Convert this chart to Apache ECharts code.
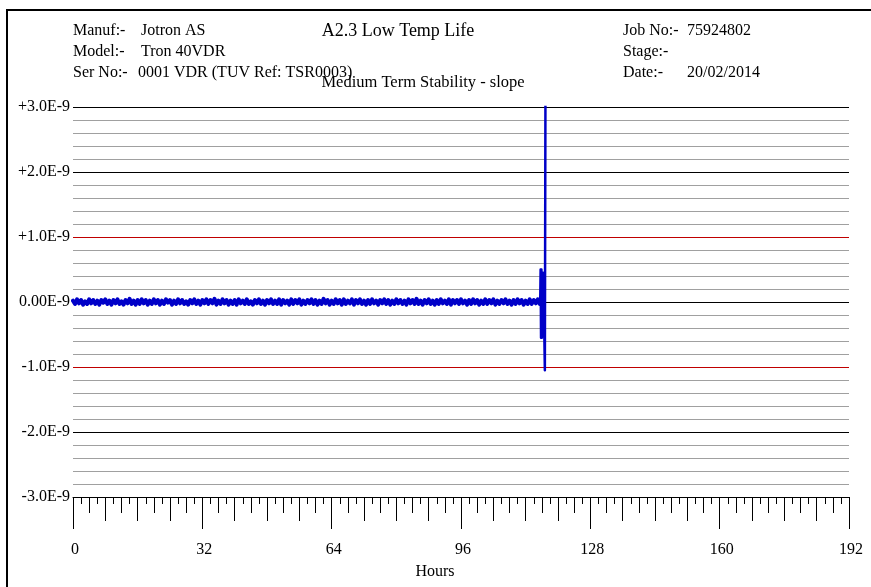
<!DOCTYPE html>
<html>
<head>
<meta charset="utf-8">
<script src="https://cdn.jsdelivr.net/npm/echarts@6.0.0/dist/echarts.min.js"></script>
<style>
html,body{margin:0;padding:0;background:#fff;}
#chart{width:871px;height:587px;}
</style>
</head>
<body>
<div id="chart"></div>
<script>
// ---- data (values in units of 1e-9) ----
const sampleStepHours = 0.5;
const noiseValues = [
0.02,-0.03,0.04,-0.02,0.03,-0.04,0.01,-0.03,0.04,-0.02,0.03,-0.03,0.02,-0.04,0.03,-0.01,0.04,-0.03,0.02,-0.04,
0.03,-0.02,0.04,-0.03,0.01,-0.04,0.03,-0.02,0.05,-0.03,0.02,-0.04,0.03,-0.03,0.04,-0.02,0.03,-0.04,0.02,-0.03,
0.04,-0.02,0.03,-0.04,0.02,-0.03,0.04,-0.01,0.03,-0.04,0.02,-0.03,0.04,-0.02,0.03,-0.03,0.01,-0.04,0.03,-0.02,
0.04,-0.03,0.02,-0.04,0.03,-0.02,0.04,-0.03,0.03,-0.02,0.05,-0.04,0.02,-0.03,0.04,-0.02,0.03,-0.04,0.02,-0.03,
0.03,-0.04,0.04,-0.02,0.02,-0.03,0.04,-0.03,0.01,-0.04,0.03,-0.02,0.04,-0.03,0.02,-0.04,0.03,-0.02,0.04,-0.03,
0.02,-0.03,0.04,-0.04,0.03,-0.02,0.02,-0.04,0.04,-0.03,0.03,-0.02,0.04,-0.04,0.02,-0.03,0.03,-0.02,0.04,-0.03,
0.03,-0.04,0.02,-0.03,0.05,-0.02,0.03,-0.04,0.02,-0.03,0.04,-0.02,0.03,-0.04,0.04,-0.03,0.02,-0.02,0.04,-0.04,
0.03,-0.02,0.04,-0.03,0.02,-0.04,0.03,-0.03,0.04,-0.02,0.02,-0.04,0.03,-0.02,0.04,-0.03,0.03,-0.04,0.02,-0.03,
0.04,-0.02,0.03,-0.03,0.02,-0.04,0.04,-0.02,0.03,-0.03,0.05,-0.03,0.02,-0.04,0.03,-0.02,0.04,-0.03,0.02,-0.04,
0.03,-0.03,0.04,-0.02,0.02,-0.03,0.04,-0.04,0.03,-0.02,0.03,-0.03,0.04,-0.02,0.02,-0.04,0.03,-0.03,0.04,-0.02,
0.03,-0.04,0.02,-0.03,0.04,-0.03,0.03,-0.02,0.04,-0.04,0.02,-0.03,0.03,-0.02,0.04,-0.03,0.02,-0.04,0.03,-0.03,
0.04,-0.02,0.03,-0.04,0.02,-0.03,0.04,-0.03,0.03,-0.02,0.04,-0.03
];
const spikeHours  = [115.5, 115.6, 115.7, 115.8, 115.9, 116.0, 116.1, 116.2, 116.3, 116.4, 116.5, 116.6, 116.75, 116.9];
const spikeValues = [-0.03, 0.02, 0.5, -0.55, 0.5, -0.55, 0.45, -0.5, 0.45, -0.5, 0.4, -0.45, -1.05, 3.3];

const yTickValues = [-3, -2, -1, 0, 1, 2, 3];
const yTickLabels = ['-3.0E-9', '-2.0E-9', '-1.0E-9', '0.00E-9', '+1.0E-9', '+2.0E-9', '+3.0E-9'];
const xTickLabels = ['0', '32', '64', '96', '128', '160', '192'];

const headerLeft = [['Manuf:-', 'Jotron AS'], ['Model:-', 'Tron 40VDR'], ['Ser No:-', '0001 VDR (TUV Ref: TSR0003)']];
const headerRight = [['Job No:-', '75924802'], ['Stage:-', ''], ['Date:-', '20/02/2014']];
const chartTitle = 'A2.3 Low Temp Life';
const chartSubtitle = 'Medium Term Stability - slope';
const xAxisName = 'Hours';

// ---- build ----
const noiseData = noiseValues.map((v, i) => [i * sampleStepHours, v]);
const spikeData = spikeHours.map((h, i) => [h, spikeValues[i]]);

const FONT = '"Liberation Serif", "Times New Roman", serif';
const txt = (text, x, y, size, align) => ({
  type: 'text', z: 100,
  style: { text: text, x: x, y: y, fill: '#000', font: size + 'px ' + FONT,
           align: align || 'left', textAlign: align || 'left',
           verticalAlign: 'middle', textVerticalAlign: 'middle' }
});

const rowY = [31, 52, 73];
const graphics = [
  { type: 'rect', z: 100, shape: { x: 7, y: 10, width: 900, height: 600 },
    style: { fill: 'none', stroke: '#000', lineWidth: 2 } }
];
headerLeft.forEach((r, i) => {
  graphics.push(txt(r[0], 73, rowY[i], 16));
  graphics.push(txt(r[1], i === 2 ? 138 : 141, rowY[i], 16));
});
headerRight.forEach((r, i) => {
  graphics.push(txt(r[0], 623, rowY[i], 16));
  if (r[1]) graphics.push(txt(r[1], 687, rowY[i], 16));
});
graphics.push(txt(chartTitle, 398, 31, 18, 'center'));
graphics.push(txt(chartSubtitle, 423, 83, 16.5, 'center'));
graphics.push(txt(xAxisName, 435, 572, 16, 'center'));

const minorX = (interval, len) => ({
  type: 'value', gridIndex: 0, position: 'bottom', min: 0, max: 192, interval: interval,
  axisLine: { show: false, onZero: false },
  axisTick: { show: true, length: len, lineStyle: { color: '#000', width: 1 } },
  axisLabel: { show: false }, splitLine: { show: false }
});

const option = {
  backgroundColor: '#fff',
  animation: false,
  grid: { left: 73, right: 22, top: 107, bottom: 90, outerBoundsMode: 'none' },
  xAxis: [
    {
      type: 'value', gridIndex: 0, position: 'bottom', min: 0, max: 192, interval: 32,
      axisLine: { show: true, onZero: false, lineStyle: { color: '#000', width: 1 } },
      axisTick: { show: true, length: 32, lineStyle: { color: '#000', width: 1 } },
      axisLabel: {
        show: true, margin: 45, color: '#000', fontFamily: FONT, fontSize: 16,
        padding: [0, 0, 0, 4],
        formatter: (v) => xTickLabels[Math.round(v / 32)]
      },
      splitLine: { show: false }
    },
    minorX(8, 24),
    minorX(4, 16),
    minorX(2, 7)
  ],
  yAxis: {
    type: 'value', min: -3, max: 3, interval: 1,
    axisLine: { show: false, onZero: false },
    axisTick: { show: false },
    minorTick: { show: false, splitNumber: 5 },
    axisLabel: {
      margin: 3, color: '#000', fontFamily: FONT, fontSize: 16,
      formatter: (v) => yTickLabels[yTickValues.indexOf(Math.round(v))]
    },
    splitLine: { show: true, lineStyle: { color: ['#000', '#000', '#c00000', '#000', '#c00000', '#000', '#000'], width: 1 } },
    minorSplitLine: { show: true, lineStyle: { color: '#a0a0a0', width: 1 } }
  },
  series: [{
    type: 'line', xAxisIndex: 0, yAxisIndex: 0,
    data: noiseData, showSymbol: false, symbol: 'none', clip: true,
    lineStyle: { color: '#0000c8', width: 4, join: 'round', cap: 'round' },
    z: 10
  }, {
    type: 'line', xAxisIndex: 0, yAxisIndex: 0,
    data: spikeData, showSymbol: false, symbol: 'none', clip: true,
    lineStyle: { color: '#0000c8', width: 2.5, join: 'round', cap: 'butt' },
    z: 10
  }],
  graphic: graphics
};

const chart = echarts.init(document.getElementById('chart'), null, { renderer: 'canvas' });
chart.setOption(option);
</script>
</body>
</html>
